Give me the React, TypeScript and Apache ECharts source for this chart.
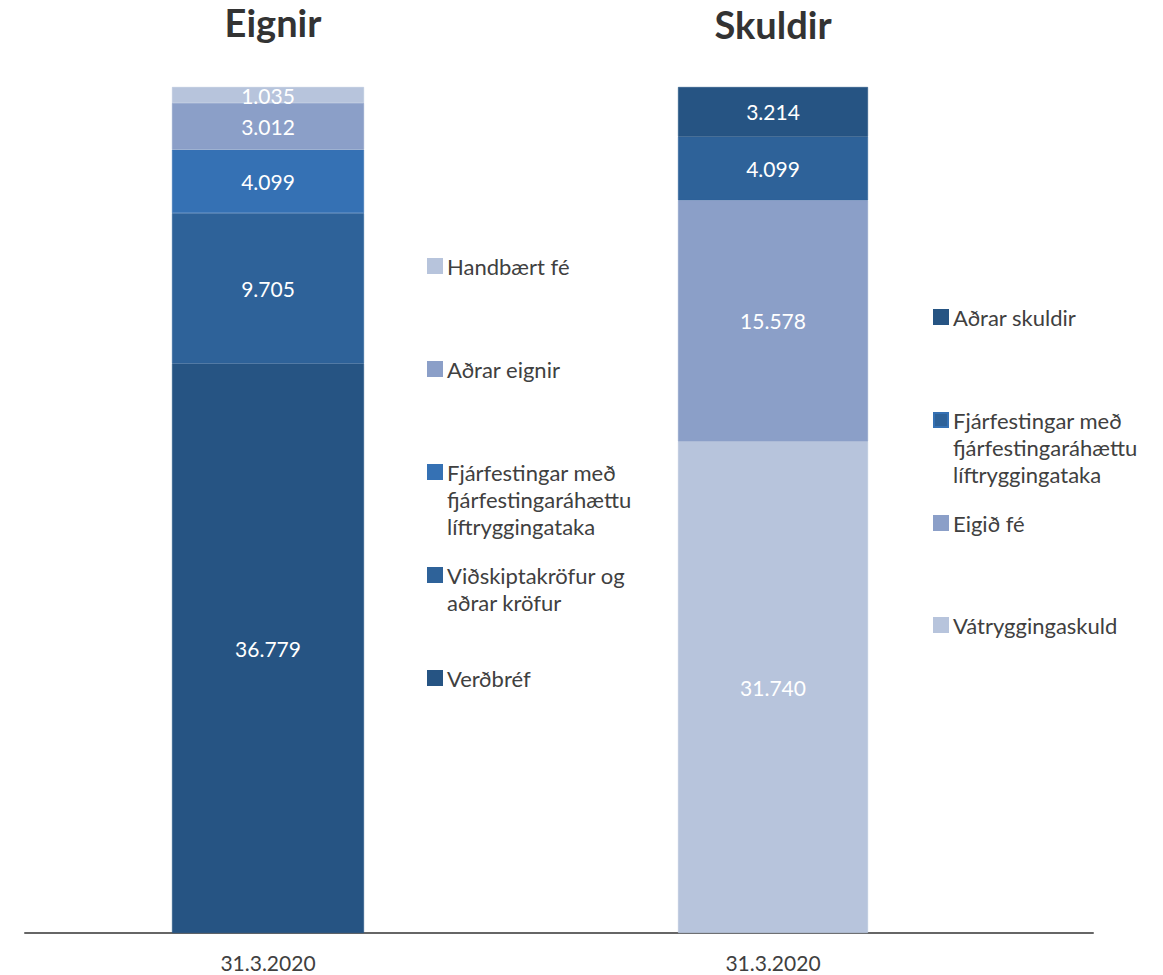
import React, { useEffect, useRef } from "react";
import * as echarts from "echarts";

const category = ["31.3.2020"];

// Eignir (assets), bottom to top, values in millions
const assetNames = [
  "Verðbréf",
  "Viðskiptakröfur og\naðrar kröfur",
  "Fjárfestingar með\nfjárfestingaráhættu\nlíftryggingataka",
  "Aðrar eignir",
  "Handbært fé",
];
const assetValues = [36779, 9705, 4099, 3012, 1035];
const assetColors = ["#265483", "#2e6299", "#3571b4", "#8b9fc8", "#b7c4dc"];

// Skuldir (liabilities), bottom to top
const liabNames = [
  "Vátryggingaskuld",
  "Eigið fé",
  "Fjárfestingar með\nfjárfestingaráhættu\nlíftryggingataka",
  "Aðrar skuldir",
];
const liabValues = [31740, 15578, 4099, 3214];
const liabColors = ["#b7c4dc", "#8b9fc8", "#2e6299", "#265483"];

const titles = ["Eignir", "Skuldir"];

// legend layout: icon center y for each item (same order as names)
const assetLegendY = [678, 575, 472, 369, 266];
const liabLegendY = [625, 523, 420, 317];
const LH = 27;

const FONT = "Lato, 'Open Sans', sans-serif";

const fmt = (v: number) =>
  String(Math.round(v)).replace(/\B(?=(\d{3})+(?!\d))/g, ".");

export default function App() {
  const ref = useRef<HTMLDivElement>(null);
  useEffect(() => {
    if (!ref.current) return;
    const chart = echarts.init(ref.current, undefined, { renderer: "svg" });
    const sumA = assetValues.reduce((a, b) => a + b, 0);
    const sumL = liabValues.reduce((a, b) => a + b, 0);

    const mkLegend = (name: string, color: string, left: number, yc: number) => {
      const n = name.split("\n").length;
      return {
        data: [{ name, itemStyle: { color } }],
        left,
        top: yc - ((2 * n - 1) * LH) / 2,
        orient: "vertical",
        padding: 0,
        itemWidth: 14,
        itemHeight: 14,
        itemGap: 0,
        icon: "rect",
        selectedMode: false,
        formatter: (nm: string) => "\n".repeat(n - 1) + nm,
        textStyle: {
          fontSize: 22,
          lineHeight: LH,
          color: "#404040",
          fontFamily: FONT,
        },
      };
    };

    const labelCfg = {
      show: true,
      position: "inside",
      color: "#ffffff",
      fontSize: 21,
      fontFamily: FONT,
      formatter: (p: any) => fmt(p.value),
    };

    const series: any[] = [];
    assetNames.forEach((name, i) => {
      series.push({
        type: "bar",
        name,
        stack: "a",
        xAxisIndex: 0,
        yAxisIndex: 0,
        barWidth: 192,
        data: [assetValues[i]],
        itemStyle: { color: assetColors[i], borderColor: assetColors[i], borderWidth: 0.6 },
        label: labelCfg,
      });
    });
    liabNames.forEach((name, i) => {
      series.push({
        type: "bar",
        name,
        stack: "b",
        xAxisIndex: 1,
        yAxisIndex: 1,
        barWidth: 190,
        data: [liabValues[i]],
        itemStyle: { color: liabColors[i], borderColor: liabColors[i], borderWidth: 0.6 },
        label: labelCfg,
      });
    });

    const axisCommon = {
      type: "category",
      data: category,
      axisTick: { show: false },
      axisLine: { lineStyle: { color: "#666666", width: 2 } },
      axisLabel: { fontSize: 21, color: "#404040", fontFamily: FONT, margin: 19 },
    };

    const titleStyle = { fontSize: 38, fontWeight: "bold", color: "#333333", fontFamily: FONT };

    chart.setOption({
      animation: false,
      backgroundColor: "#ffffff",
      title: [
        { text: titles[0], left: 268, top: -2, textAlign: "center", textStyle: titleStyle },
        { text: titles[1], left: 768, top: 0, textAlign: "center", textStyle: titleStyle },
      ],
      legend: [
        ...assetNames.map((n, i) => mkLegend(n, assetColors[i], 427, assetLegendY[i])),
        ...liabNames.map((n, i) => mkLegend(n, liabColors[i], 933, liabLegendY[i])),
      ],
      grid: [
        { left: 25, width: 486, top: 87, bottom: 42 },
        { left: 453, width: 640, top: 87, bottom: 42 },
      ],
      xAxis: [
        { ...axisCommon, gridIndex: 0 },
        { ...axisCommon, gridIndex: 1 },
      ],
      yAxis: [
        { type: "value", gridIndex: 0, min: 0, max: sumA, show: false },
        { type: "value", gridIndex: 1, min: 0, max: sumL, show: false },
      ],
      series,
    });
    return () => chart.dispose();
  }, []);
  return (
    <div
      ref={ref}
      style={{ position: "absolute", left: 0, top: 0, width: 1163, height: 975 }}
    />
  );
}
